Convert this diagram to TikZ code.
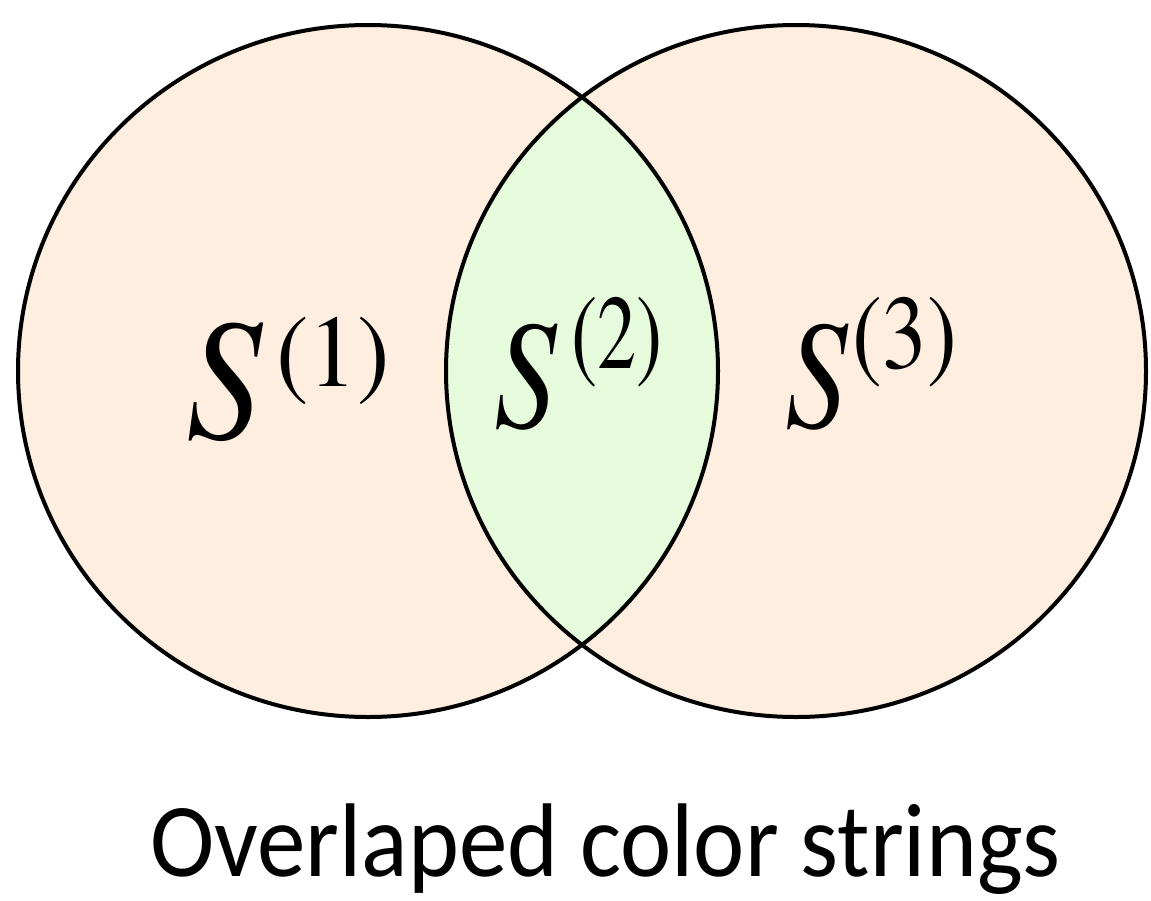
\documentclass[tikz,border=0pt]{standalone}
\usepackage{fontspec}
\newfontfamily\labelfont{texgyretermes}[Extension=.otf,UprightFont=*-regular,ItalicFont=*-italic,BoldFont=*-bold]
\newfontfamily\capfont{Carlito}[Extension=.ttf,UprightFont=*-Regular,BoldFont=*-Bold]
\definecolor{peach}{RGB}{253,238,223}
\definecolor{lensgreen}{RGB}{230,250,220}
% #1 S size, #2 vertical scale, #3 gap, #4 sup size, #5 raise, #6 digit, #7 sup xscale
\newcommand\vennlabel[7]{\scalebox{1}[#2]{\labelfont\fontsize{#1}{#1}\selectfont\itshape S\upshape\hspace{#3}\raisebox{#5}{\scalebox{#7}[1]{\fontsize{#4}{#4}\selectfont(#6)}}}}
\begin{document}
\begin{tikzpicture}[x=1pt,y=1pt,
  ring/.style={draw=black,line width=4pt},
  setlabel/.style={anchor=base west,inner sep=0pt,font=\labelfont},
  caption/.style={anchor=base west,inner sep=0pt,font=\capfont\fontsize{97}{100}\selectfont}]
\useasboundingbox (0,0) rectangle (1151,-900);
\coordinate (cl) at (368,-371);
\coordinate (cr) at (796,-371);
\fill[peach] (cl) ellipse [x radius=350,y radius=346];
\fill[peach] (cr) ellipse [x radius=350,y radius=346];
\begin{scope}
  \clip (cl) ellipse [x radius=350,y radius=346];
  \fill[lensgreen] (cr) ellipse [x radius=350,y radius=346];
\end{scope}
\draw[ring] (cl) ellipse [x radius=350,y radius=346];
\draw[ring] (cr) ellipse [x radius=350,y radius=346];
\node[setlabel] (s1) at (186,-438) {\vennlabel{152}{1.14}{14pt}{90}{45pt}{1}{1.08}};
\node[setlabel] (s2) at (494,-427) {\vennlabel{125}{1.24}{15pt}{85}{47pt}{2}{0.92}};
\node[setlabel] (s3) at (785,-427) {\vennlabel{125}{1.24}{5pt}{85}{47pt}{3}{1.05}};
\node[caption] (cap) at (150,-876) {\scalebox{1}[1.08]{Overlaped color strings}};
\end{tikzpicture}
\end{document}
